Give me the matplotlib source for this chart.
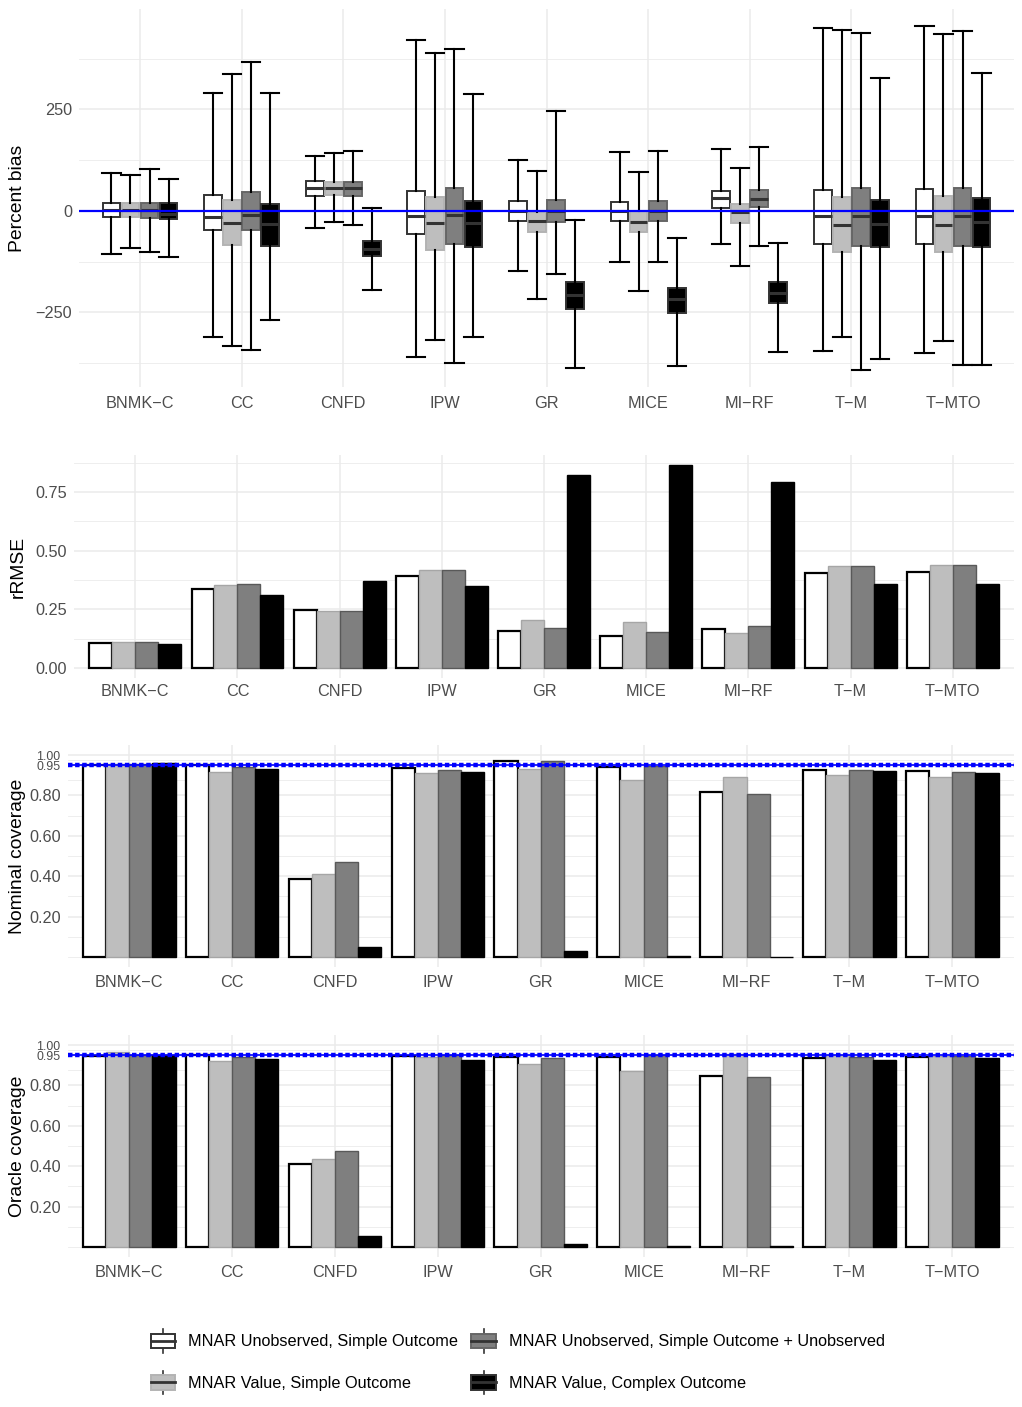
import matplotlib
matplotlib.use("Agg")
import matplotlib.pyplot as plt
import matplotlib.transforms as mtransforms
import numpy as np
from matplotlib.patches import Rectangle, Patch
from matplotlib.lines import Line2D
from matplotlib.legend_handler import HandlerBase

plt.rcParams['font.family'] = ['Liberation Sans', 'DejaVu Sans']

# --- data ---
methods = ["BNMK\u2212C", "CC", "CNFD", "IPW", "GR", "MICE", "MI\u2212RF", "T\u2212M", "T\u2212MTO"]
scenarios = ["MNAR Unobserved, Simple Outcome",
             "MNAR Value, Simple Outcome",
             "MNAR Unobserved, Simple Outcome + Unobserved",
             "MNAR Value, Complex Outcome"]

# percent bias box stats, one row per scenario
bias_whishi = [[92, 291, 135, 420, 124, 144, 151, 449, 455],
               [88, 336, 142, 389, 99, 95, 106, 445, 436],
               [102, 366, 148, 398, 247, 148, 157, 439, 442],
               [78, 291, 6, 287, -23, -68, -79, 327, 340]]
bias_q3 = [[20, 40, 73, 49, 25, 22, 48, 52, 54],
           [18, 26, 70, 34, -2, -1, 17, 35, 37],
           [20, 47, 71, 56, 26, 24, 51, 56, 57],
           [18, 17, -74, 25, -175, -189, -176, 27, 31]]
bias_med = [[2, -15, 57, -13, 0, 0, 31, -13, -13],
            [2, -31, 57, -31, -25, -27, -4, -34, -34],
            [2, -11, 55, -11, 0, 0, 30, -13, -13],
            [-8, -33, -93, -31, -207, -218, -202, -33, -27]]
bias_q1 = [[-16, -48, 37, -56, -26, -24, 7, -82, -82],
           [-16, -84, 39, -97, -53, -53, -30, -102, -101],
           [-18, -48, 36, -82, -27, -26, 10, -87, -87],
           [-20, -86, -111, -89, -242, -251, -228, -90, -89]]
bias_whislo = [[-107, -312, -43, -359, -149, -127, -81, -346, -351],
               [-91, -334, -27, -318, -217, -198, -135, -312, -321],
               [-102, -343, -36, -375, -155, -125, -87, -392, -379],
               [-114, -269, -195, -311, -388, -383, -347, -365, -379]]

rrmse = [[0.106, 0.335, 0.247, 0.390, 0.156, 0.136, 0.167, 0.404, 0.411],
         [0.109, 0.353, 0.244, 0.418, 0.206, 0.194, 0.150, 0.435, 0.437],
         [0.112, 0.357, 0.241, 0.417, 0.170, 0.152, 0.177, 0.435, 0.438],
         [0.102, 0.313, 0.369, 0.348, 0.821, 0.865, 0.791, 0.360, 0.359]]

nominal_cov = [[0.950, 0.953, 0.386, 0.935, 0.972, 0.943, 0.816, 0.927, 0.920],
               [0.955, 0.915, 0.409, 0.910, 0.931, 0.879, 0.889, 0.902, 0.889],
               [0.955, 0.943, 0.468, 0.928, 0.972, 0.945, 0.806, 0.925, 0.917],
               [0.960, 0.930, 0.049, 0.915, 0.027, 0.006, 0.001, 0.920, 0.910]]

oracle_cov = [[0.948, 0.950, 0.410, 0.945, 0.940, 0.943, 0.849, 0.937, 0.940],
              [0.965, 0.923, 0.437, 0.940, 0.907, 0.872, 0.955, 0.950, 0.945],
              [0.950, 0.940, 0.476, 0.950, 0.937, 0.950, 0.844, 0.943, 0.945],
              [0.950, 0.933, 0.054, 0.927, 0.016, 0.003, 0.003, 0.927, 0.937]]

cov_ticks = [0.20, 0.40, 0.60, 0.80, 0.95, 1.00]

# --- styling ---
fills = ["white", "#bebebe", "#7f7f7f", "black"]
bar_edges = ["black", "#a6a6a6", "#595959", "black"]
box_edges = ["#333333", "#b3b3b3", "#666666", "#333333"]
grid_col = "#ebebeb"
tick_col = "#4d4d4d"

W, H = 1022, 1407
fig = plt.figure(figsize=(W / 100, H / 100), dpi=100)
x = np.arange(len(methods))


def add_panel(left, top, bottom, right=1014):
    return fig.add_axes([left / W, 1 - bottom / H, (right - left) / W, (bottom - top) / H])


def style(ax, ylabel, ylim, major, minor, xpad=7):
    ax.set_xlim(-0.6, len(methods) - 0.4)
    ax.set_ylim(*ylim)
    for s in ax.spines.values():
        s.set_visible(False)
    ax.set_xticks(x, methods)
    ax.set_yticks(major)
    ax.set_yticks(minor, minor=True)
    ax.tick_params(which="both", length=0, labelsize=11.7, labelcolor=tick_col)
    ax.tick_params(axis="x", pad=xpad)
    ax.tick_params(axis="y", pad=5)
    ax.grid(True, which="major", color=grid_col, lw=1.1)
    ax.grid(True, which="minor", axis="y", color=grid_col, lw=0.6)
    ax.set_axisbelow(True)
    ax.set_ylabel(ylabel, fontsize=13.9)
    ax.yaxis.label.set_va("center")
    ax.yaxis.set_label_coords(18 / W, 0.5,
                              transform=mtransforms.blended_transform_factory(fig.transFigure, ax.transAxes))


# --- Percent bias ---
ax1 = add_panel(79, 9, 387)
box_off = [-0.28125, -0.09375, 0.09375, 0.28125]
for i in range(4):
    stats = [dict(med=bias_med[i][j], q1=bias_q1[i][j], q3=bias_q3[i][j],
                  whislo=bias_whislo[i][j], whishi=bias_whishi[i][j]) for j in range(len(methods))]
    ax1.bxp(stats, positions=x + box_off[i], widths=0.175, capwidths=0.18,
            patch_artist=True, showfliers=False, manage_ticks=False,
            boxprops=dict(facecolor=fills[i], edgecolor=box_edges[i], lw=1.4),
            medianprops=dict(color="#333333", lw=2.2, solid_capstyle="butt"),
            whiskerprops=dict(color="black", lw=1.5),
            capprops=dict(color="black", lw=1.5))
ax1.axhline(0, color="blue", lw=1.6, zorder=5)
style(ax1, "Percent bias", (-434, 497), [-250, 0, 250], [-375, -125, 125, 375], xpad=6.5)

# --- rRMSE ---
ax2 = add_panel(74, 455, 678)
bar_off = [-0.3375, -0.1125, 0.1125, 0.3375]
for i in range(4):
    ax2.bar(x + bar_off[i], rrmse[i], width=0.225, color=fills[i],
            edgecolor=bar_edges[i], lw=1.6 if i == 0 else 1.0)
style(ax2, "rRMSE", (-0.043, 0.908), [0, 0.25, 0.5, 0.75], [0.125, 0.375, 0.625, 0.875], xpad=4.5)
ax2.set_yticklabels(["0.00", "0.25", "0.50", "0.75"])


# --- coverage panels ---
def coverage_panel(ax, values, ylabel):
    for i in range(4):
        ax.bar(x + bar_off[i], values[i], width=0.225, color=fills[i],
               edgecolor=bar_edges[i], lw=1.6 if i == 0 else 1.0)
    ax.axhline(0.95, color="blue", lw=1.2, zorder=5)
    ax.axhline(0.95, color="blue", lw=3.2, ls=(0, (1.0, 0.6)), zorder=6)
    style(ax, ylabel, (-0.05, 1.05), cov_ticks, [0.0, 0.1, 0.3, 0.5, 0.7, 0.875, 0.975], xpad=5.8)
    ax.set_yticklabels(["%.2f" % t for t in cov_ticks])
    for lab in ax.get_yticklabels():
        if lab.get_text() in ("0.95", "1.00"):
            lab.set_fontsize(8.9)


ax3 = add_panel(67.5, 745, 967)
coverage_panel(ax3, nominal_cov, "Nominal coverage")
ax4 = add_panel(67.5, 1035, 1257)
coverage_panel(ax4, oracle_cov, "Oracle coverage")


# --- legend with boxplot keys ---
class BoxKey(HandlerBase):
    def create_artists(self, legend, orig_handle, xdescent, ydescent, width, height, fontsize, trans):
        x0, y0 = -xdescent, -ydescent
        cx = x0 + width / 2
        top = Line2D([cx, cx], [y0 + height * 0.8, y0 + height], color="#333333", lw=1.2, transform=trans)
        bot = Line2D([cx, cx], [y0, y0 + height * 0.2], color="#333333", lw=1.2, transform=trans)
        box = Rectangle((x0, y0 + height * 0.2), width, height * 0.6, facecolor=orig_handle.get_facecolor(),
                        edgecolor=orig_handle.get_edgecolor(), lw=1.4, transform=trans)
        med = Line2D([x0, x0 + width], [y0 + height / 2] * 2, color="#333333", lw=2.0, transform=trans)
        return [top, bot, box, med]


handles = [Patch(facecolor=fills[i], edgecolor=box_edges[i]) for i in range(4)]
fig.legend(handles, scenarios, handler_map={Patch: BoxKey()}, ncol=2,
           loc="upper left", bbox_to_anchor=(151 / W, 1 - 1329 / H),
           frameon=False, borderpad=0, borderaxespad=0, fontsize=11.7,
           handlelength=1.5, handleheight=1.85, handletextpad=0.8,
           labelspacing=1.12, columnspacing=0.8)

fig.savefig("out.png", dpi=100, facecolor="white")
